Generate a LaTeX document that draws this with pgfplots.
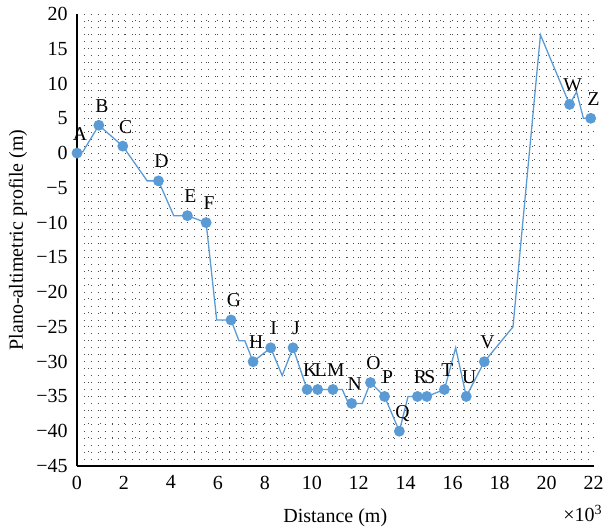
\documentclass[border=0pt]{standalone}
\usepackage{fontspec}
\setmainfont{Liberation Serif}
\usepackage{pgfplots}
\pgfplotsset{compat=1.18}
\usepackage{pgfplotstable}
\definecolor{pblue}{RGB}{91,155,213}

\pgfplotstableread{
x y
0 0
0.25 0.2
0.93 4
1.95 1
2.99 -4
3.47 -4
4.12 -9
4.70 -9
5.50 -10
5.95 -24
6.56 -24
6.90 -27
7.15 -27
7.50 -30
8.25 -28
8.74 -32
9.20 -28
9.80 -34
10.25 -34
10.90 -34
11.30 -34
11.56 -36
11.70 -36
12.15 -36
12.50 -33
13.10 -35
13.73 -40
14.10 -35
14.50 -35
14.90 -35
15.65 -34
16.13 -28
16.58 -35
17.35 -30
18.57 -25
19.74 17
20.98 7
21.28 8.8
21.57 5
21.88 5
}\profile

\pgfplotstableread{
x y lab
0 0 A
0.93 4 B
1.95 1 C
3.47 -4 D
4.70 -9 E
5.50 -10 F
6.56 -24 G
7.50 -30 H
8.25 -28 I
9.20 -28 J
9.80 -34 K
10.25 -34 L
10.90 -34 M
11.70 -36 N
12.50 -33 O
13.10 -35 P
13.73 -40 Q
14.50 -35 R
14.90 -35 S
15.65 -34 T
16.58 -35 U
17.35 -30 V
20.98 7 W
21.88 5 Z
}\stations

\begin{document}
\fontsize{10}{12}\selectfont
\begin{tikzpicture}
\begin{axis}[
  scale only axis,
  width=258.25pt, height=226pt,
  xmin=0, xmax=22, ymin=-45, ymax=20,
  xtick distance=2, ytick distance=5,
  minor x tick num=3, minor y tick num=4,
  major tick length=0pt, minor tick length=0pt,
  grid=both,
  x grid style={black!70, line width=0.45pt, dash pattern=on 0.45pt off 6.5pt},
  y grid style={black!70, line width=0.45pt, dash pattern=on 0.45pt off 3.0pt},
  axis x line*=bottom, axis y line*=left,
  axis line style={-, black, line width=0.9pt},
  /pgf/number format/assume math mode=true,
  ticklabel style={font=\fontsize{10}{12}\selectfont, inner sep=0pt},
  yticklabel={\ifdim\tick pt<0pt −\fi\pgfmathsetmacro\tv{abs(\tick)}\pgfmathprintnumber[assume math mode=true]{\tv}},
  xticklabel style={yshift=-4.7pt},
  yticklabel style={xshift=-4.5pt},
  xlabel={Distance (m)},
  ylabel={Plano-altimetric profile (m)},
  xlabel style={at={(axis description cs:0.5,0)}, anchor=base, yshift=-28pt, inner sep=0pt},
  ylabel style={at={([xshift=-29.5pt]axis description cs:0,0.5)}, anchor=center, inner sep=0pt},
  clip=false,
]
\addplot[pblue, line width=0.65pt, no markers] table[x=x, y=y] {\profile};
\addplot[only marks, mark=*, mark size=2.5pt, pblue,
  point meta=explicit symbolic,
  nodes near coords,
  every node near coord/.style={black, anchor=base, inner sep=0pt, xshift=1.5pt, yshift=6.5pt, font=\fontsize{9.8}{11}\selectfont}]
  table[x=x, y=y, meta=lab] {\stations};
\node[anchor=base east, inner sep=0pt] at ([xshift=4.75pt,yshift=-27.9pt]rel axis cs:1,0) {×10\textsuperscript{3}};
\end{axis}
\path (current axis.south west) ++(-38.5pt,-31.5pt) rectangle ([xshift=5.25pt,yshift=7pt]current axis.north east);
\end{tikzpicture}
\end{document}
